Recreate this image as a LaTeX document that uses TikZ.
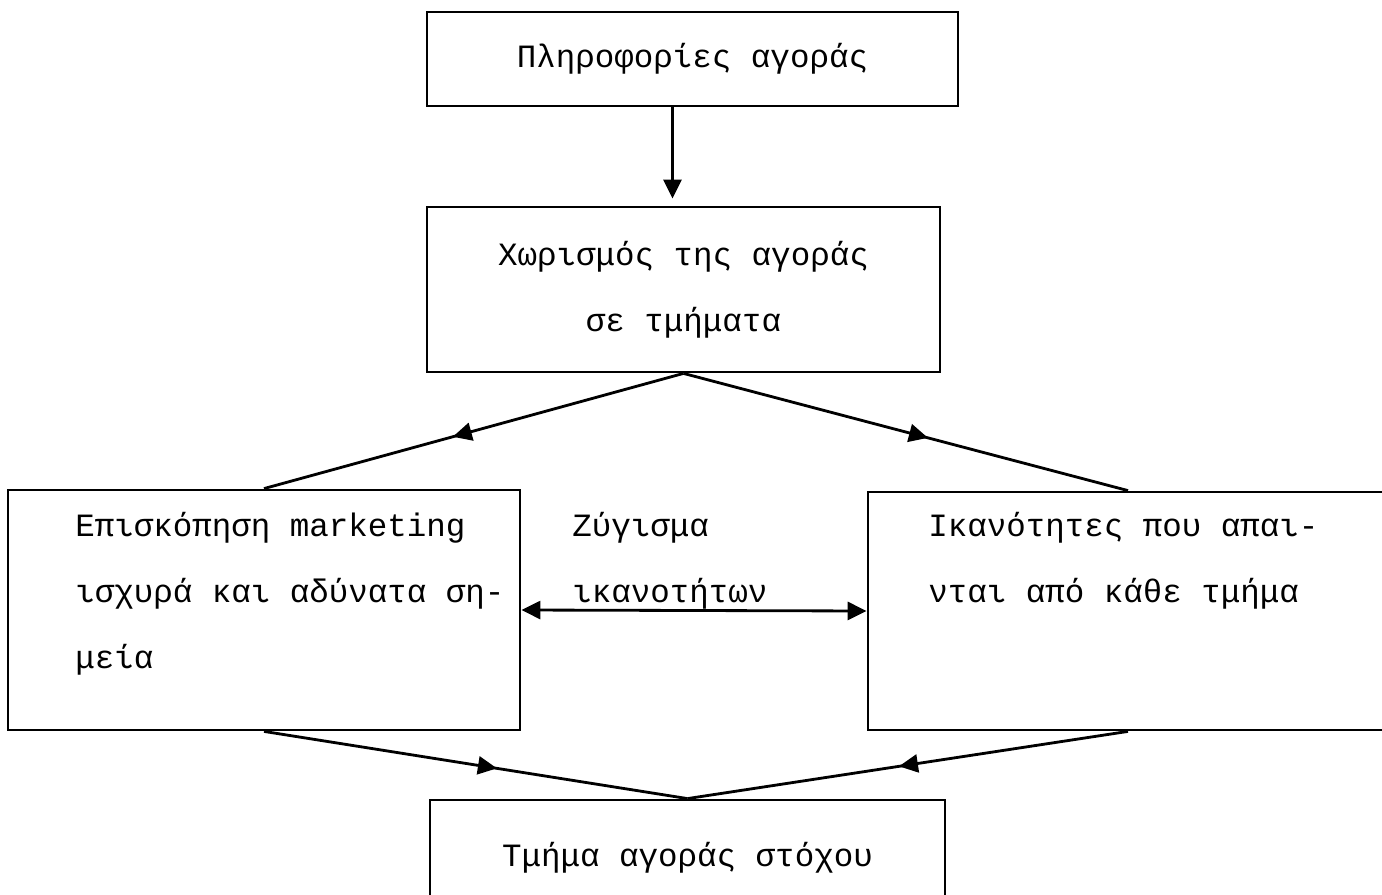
\documentclass[tikz,border=0pt]{standalone}
\usepackage{fontspec}
\setmainfont{Liberation Mono}
\usetikzlibrary{arrows.meta}
\usetikzlibrary{decorations.markings, calc}

\tikzset{
  boite/.style={draw, line width=1.6pt, inner sep=0pt, align=center},
  texte/.style={inner sep=0pt, align=left, anchor=north west},
  fleche/.style={line width=1.6pt, postaction={decorate},
    decoration={markings, mark=at position #1 with {\arrow{Triangle[length=0.38cm,width=0.36cm]}}}},
  pointe/.style={line width=1.6pt, -{Triangle[length=0.38cm,width=0.36cm]}}
}

\begin{document}
\begin{tikzpicture}[font=\fontsize{18.5}{37.5}\selectfont]
    % Cadre de l'image
    \useasboundingbox (0,0) rectangle (27.64,-17.9);

    % Boites
    \node[boite, minimum width=10.62cm, minimum height=1.88cm] (info) at (13.85,-1.18) {Πληροφορίες αγοράς};
    \node[boite, minimum width=10.26cm, minimum height=3.3cm] (chor) at (13.67,-5.79) {Χωρισμός της αγοράς\\σε τμήματα};
    \node[boite, minimum width=10.24cm, minimum height=4.8cm] (epis) at (5.28,-12.2) {};
    \node[boite, minimum width=10.4cm, minimum height=4.76cm] (ikan) at (22.56,-12.22) {};
    \node[boite, minimum width=10.3cm, minimum height=2.32cm] (stoch) at (13.75,-17.16) {Τμήμα αγοράς στόχου};

    % Textes des boites laterales
    \node[texte] (episT) at (1.5,-10.24) {Επισκόπηση marketing\\ισχυρά και αδύνατα ση-\\μεία};
    \node[texte] (zyg) at (11.44,-10.24) {Ζύγισμα\\ικανοτήτων};
    \node[texte] (ikanT) at (18.56,-10.24) {Ικανότητες που απαι-\\νται από κάθε τμήμα};

    % Fleches
    \coordinate (d1) at ([xshift=-0.4cm]info.south);
    \draw[pointe, shorten >=0.14cm] (d1) -- (d1 |- chor.north);
    \draw[fleche=0.55] (chor.south) -- (epis.north);
    \draw[fleche=0.55] (chor.south) -- (ikan.north);
    \draw[line width=1.6pt, {Triangle[length=0.38cm,width=0.36cm]}-{Triangle[length=0.38cm,width=0.36cm]}] (epis.east) -- (ikan.west);
    \draw[fleche=0.55] (epis.south) -- (stoch.north);
    \draw[fleche=0.52] (ikan.south) -- (stoch.north);

\end{tikzpicture}
\end{document}
